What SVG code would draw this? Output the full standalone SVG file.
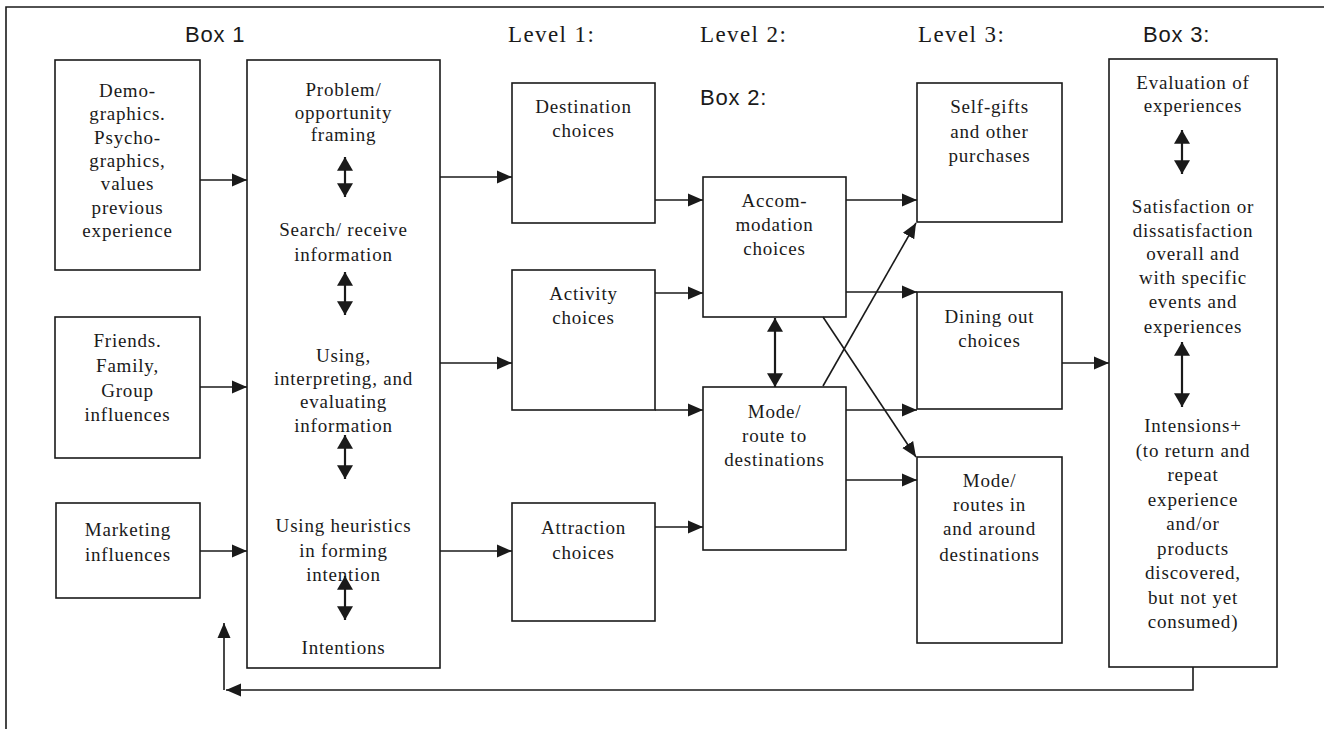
<svg xmlns="http://www.w3.org/2000/svg" width="1324" height="729" viewBox="0 0 1324 729">
<style>
.box{fill:#fff;stroke:#1a1a1a;stroke-width:1.6}
.t{font-family:"Liberation Serif","Times New Roman",serif;font-size:19px;letter-spacing:0.8px;fill:#1a1a1a;text-anchor:middle}
.h{font-family:"Liberation Serif","Times New Roman",serif;font-size:23px;letter-spacing:1.4px;fill:#1a1a1a}
.hs{font-family:"Liberation Sans",Arial,sans-serif;font-size:22px;letter-spacing:0.8px;fill:#1a1a1a}
.c{fill:none;stroke:#1a1a1a;stroke-width:1.6}
.d{fill:none;stroke:#1a1a1a;stroke-width:2.2}
</style>
<defs>
<marker id="ah" markerUnits="userSpaceOnUse" markerWidth="16" markerHeight="16" refX="15" refY="6.5" orient="auto-start-reverse" viewBox="0 0 16 13">
<path d="M0,0 L15,6.5 L0,13 z" fill="#1a1a1a"/>
</marker>
<marker id="dh" markerUnits="userSpaceOnUse" markerWidth="16" markerHeight="16" refX="13" refY="7.5" orient="auto-start-reverse" viewBox="0 0 14 15">
<path d="M0,0 L13,7.5 L0,15 z" fill="#1a1a1a"/>
</marker>
</defs>
<rect width="1324" height="729" fill="#fff"/>
<g id="frame"><path class="c" d="M6,729 V7 H1324"/></g>

<g id="headers">
<text class="hs" x="185" y="42">Box 1</text>
<text class="h" x="508" y="42">Level 1:</text>
<text class="h" x="700" y="42">Level 2:</text>
<text class="hs" x="700" y="105">Box 2:</text>
<text class="h" x="918" y="42">Level 3:</text>
<text class="hs" x="1143" y="42">Box 3:</text>
</g>

<g id="demographics">
<rect class="box" x="55" y="60" width="145" height="210"/>
<text class="t" x="127.5" y="97">Demo-</text>
<text class="t" x="127.5" y="120">graphics.</text>
<text class="t" x="127.5" y="144">Psycho-</text>
<text class="t" x="127.5" y="167">graphics,</text>
<text class="t" x="127.5" y="190">values</text>
<text class="t" x="127.5" y="214">previous</text>
<text class="t" x="127.5" y="237">experience</text>
</g>

<g id="friends">
<rect class="box" x="55" y="317" width="145" height="141"/>
<text class="t" x="127.5" y="347">Friends.</text>
<text class="t" x="127.5" y="372">Family,</text>
<text class="t" x="127.5" y="397">Group</text>
<text class="t" x="127.5" y="421">influences</text>
</g>

<g id="marketing">
<rect class="box" x="56" y="503" width="144" height="95"/>
<text class="t" x="128" y="536">Marketing</text>
<text class="t" x="128" y="561">influences</text>
</g>

<g id="box1">
<rect class="box" x="247" y="60" width="193" height="608"/>
<text class="t" x="343.5" y="96">Problem/</text>
<text class="t" x="343.5" y="118.5">opportunity</text>
<text class="t" x="343.5" y="141">framing</text>
<text class="t" x="343.5" y="236">Search/ receive</text>
<text class="t" x="343.5" y="261">information</text>
<text class="t" x="343.5" y="362">Using,</text>
<text class="t" x="343.5" y="385">interpreting, and</text>
<text class="t" x="343.5" y="408">evaluating</text>
<text class="t" x="343.5" y="432">information</text>
<text class="t" x="343.5" y="532">Using heuristics</text>
<text class="t" x="343.5" y="557">in forming</text>
<text class="t" x="343.5" y="581">intention</text>
<text class="t" x="343.5" y="654">Intentions</text>
<line class="d" x1="345" y1="157" x2="345" y2="197" marker-start="url(#dh)" marker-end="url(#dh)"/>
<line class="d" x1="345" y1="272" x2="345" y2="315" marker-start="url(#dh)" marker-end="url(#dh)"/>
<line class="d" x1="345" y1="435" x2="345" y2="479" marker-start="url(#dh)" marker-end="url(#dh)"/>
<line class="d" x1="345" y1="576" x2="345" y2="620" marker-start="url(#dh)" marker-end="url(#dh)"/>
</g>

<g id="destination">
<rect class="box" x="512" y="83" width="143" height="140"/>
<text class="t" x="583.5" y="113">Destination</text>
<text class="t" x="583.5" y="137">choices</text>
</g>
<g id="activity">
<rect class="box" x="512" y="270" width="143" height="140"/>
<text class="t" x="583.5" y="300">Activity</text>
<text class="t" x="583.5" y="324">choices</text>
</g>
<g id="attraction">
<rect class="box" x="512" y="503" width="143" height="118"/>
<text class="t" x="583.5" y="534">Attraction</text>
<text class="t" x="583.5" y="559">choices</text>
</g>

<g id="accommodation">
<rect class="box" x="703" y="177" width="143" height="140"/>
<text class="t" x="774.5" y="207">Accom-</text>
<text class="t" x="774.5" y="231">modation</text>
<text class="t" x="774.5" y="255">choices</text>
</g>
<g id="moderoute">
<rect class="box" x="703" y="387" width="143" height="163"/>
<text class="t" x="774.5" y="418">Mode/</text>
<text class="t" x="774.5" y="442">route to</text>
<text class="t" x="774.5" y="466">destinations</text>
</g>

<g id="selfgifts">
<rect class="box" x="917" y="83" width="145" height="139"/>
<text class="t" x="989.5" y="113">Self-gifts</text>
<text class="t" x="989.5" y="138">and other</text>
<text class="t" x="989.5" y="162">purchases</text>
</g>
<g id="dining">
<rect class="box" x="917" y="292" width="145" height="117"/>
<text class="t" x="989.5" y="323">Dining out</text>
<text class="t" x="989.5" y="347">choices</text>
</g>
<g id="moderoutes">
<rect class="box" x="917" y="457" width="145" height="186"/>
<text class="t" x="989.5" y="487">Mode/</text>
<text class="t" x="989.5" y="511">routes in</text>
<text class="t" x="989.5" y="535">and around</text>
<text class="t" x="989.5" y="561">destinations</text>
</g>

<g id="box3">
<rect class="box" x="1109" y="59" width="168" height="608"/>
<text class="t" x="1193" y="89">Evaluation of</text>
<text class="t" x="1193" y="112">experiences</text>
<text class="t" x="1193" y="213">Satisfaction or</text>
<text class="t" x="1193" y="237">dissatisfaction</text>
<text class="t" x="1193" y="260">overall and</text>
<text class="t" x="1193" y="284">with specific</text>
<text class="t" x="1193" y="308">events and</text>
<text class="t" x="1193" y="333">experiences</text>
<text class="t" x="1193" y="432">Intensions+</text>
<text class="t" x="1193" y="456.5">(to return and</text>
<text class="t" x="1193" y="481">repeat</text>
<text class="t" x="1193" y="505.5">experience</text>
<text class="t" x="1193" y="530">and/or</text>
<text class="t" x="1193" y="554.5">products</text>
<text class="t" x="1193" y="579">discovered,</text>
<text class="t" x="1193" y="603.5">but not yet</text>
<text class="t" x="1193" y="628">consumed)</text>
<line class="d" x1="1182" y1="130" x2="1182" y2="174" marker-start="url(#dh)" marker-end="url(#dh)"/>
<line class="d" x1="1182" y1="342" x2="1182" y2="407" marker-start="url(#dh)" marker-end="url(#dh)"/>
</g>

<g id="connectors">
<line class="c" x1="200" y1="180" x2="247" y2="180" marker-end="url(#ah)"/>
<line class="c" x1="200" y1="387" x2="247" y2="387" marker-end="url(#ah)"/>
<line class="c" x1="200" y1="551" x2="247" y2="551" marker-end="url(#ah)"/>
<line class="c" x1="440" y1="177" x2="512" y2="177" marker-end="url(#ah)"/>
<line class="c" x1="440" y1="363" x2="512" y2="363" marker-end="url(#ah)"/>
<line class="c" x1="440" y1="551" x2="512" y2="551" marker-end="url(#ah)"/>
<line class="c" x1="655" y1="200" x2="703" y2="200" marker-end="url(#ah)"/>
<line class="c" x1="655" y1="293" x2="703" y2="293" marker-end="url(#ah)"/>
<line class="c" x1="655" y1="410" x2="703" y2="410" marker-end="url(#ah)"/>
<line class="c" x1="655" y1="527" x2="703" y2="527" marker-end="url(#ah)"/>
<line class="d" x1="775" y1="318" x2="775" y2="387" marker-start="url(#dh)" marker-end="url(#dh)"/>
<line class="c" x1="846" y1="200" x2="917" y2="200" marker-end="url(#ah)"/>
<line class="c" x1="846" y1="292" x2="917" y2="292" marker-end="url(#ah)"/>
<line class="c" x1="846" y1="410" x2="917" y2="410" marker-end="url(#ah)"/>
<line class="c" x1="846" y1="480" x2="917" y2="480" marker-end="url(#ah)"/>
<line class="c" x1="823" y1="386" x2="916" y2="223" marker-end="url(#ah)"/>
<line class="c" x1="823" y1="317" x2="916" y2="457" marker-end="url(#ah)"/>
<line class="c" x1="1062" y1="363" x2="1109" y2="363" marker-end="url(#ah)"/>
<polyline class="c" points="1193,667 1193,690 226,690" marker-end="url(#ah)"/>
<line class="c" x1="224" y1="690" x2="224" y2="623" marker-end="url(#ah)"/>
</g>
</svg>
